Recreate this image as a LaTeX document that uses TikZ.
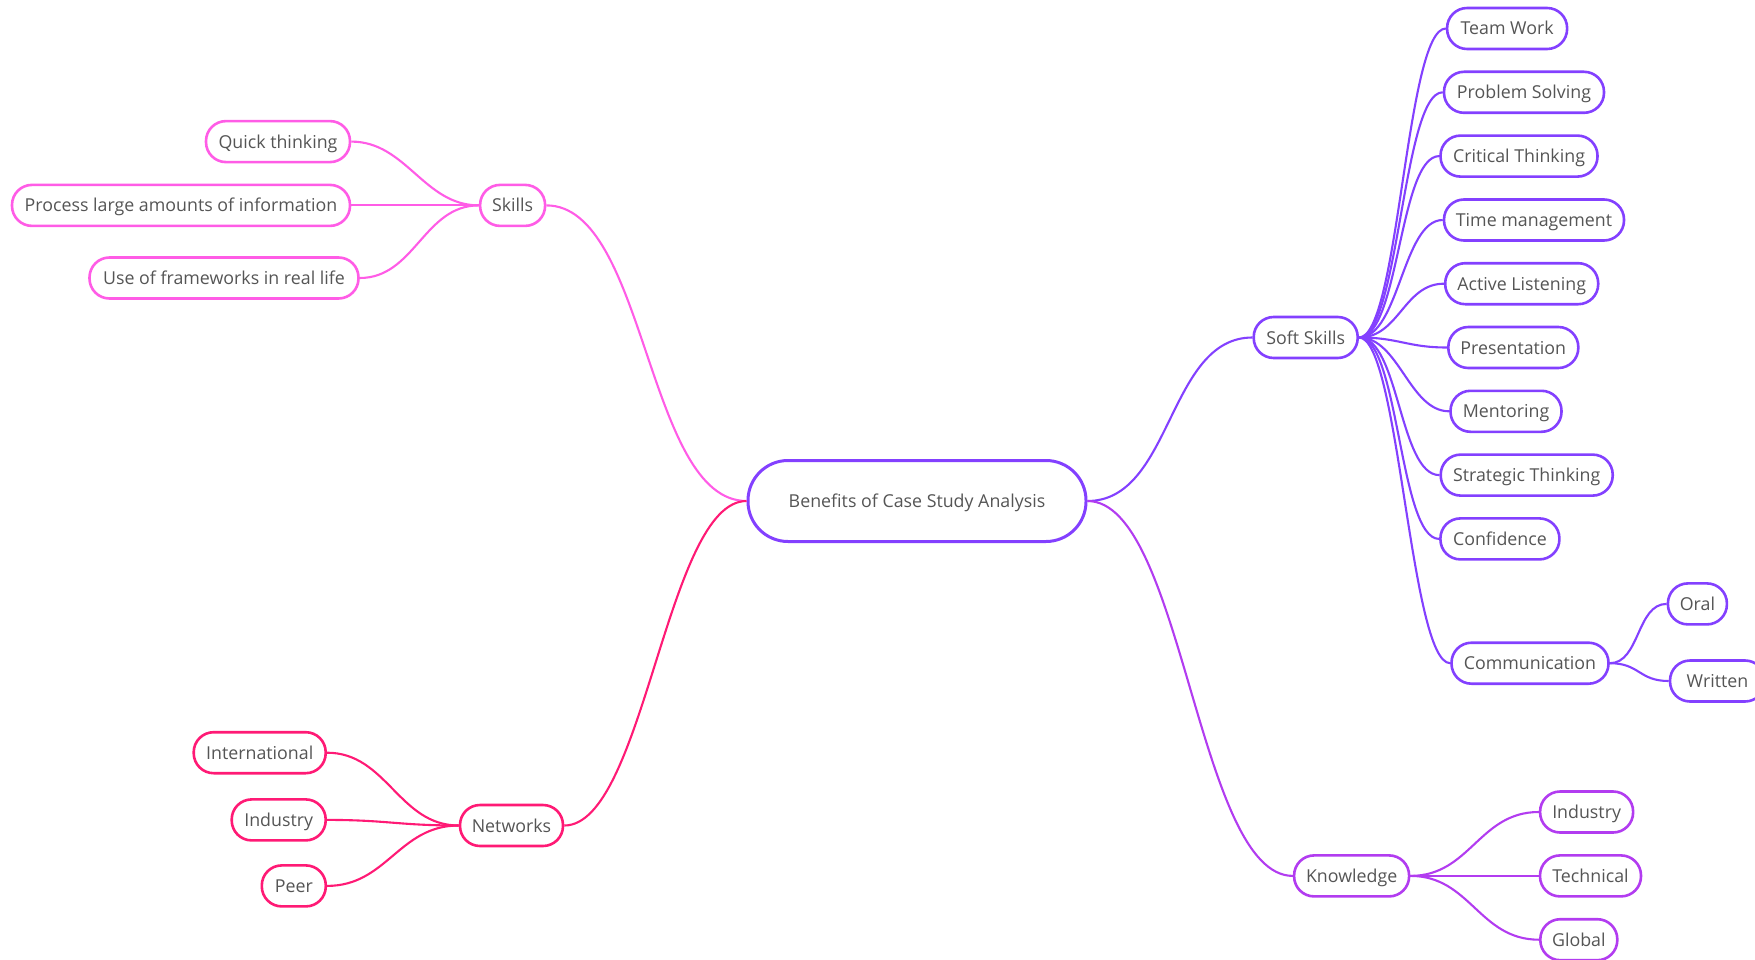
\documentclass[tikz,border=0pt]{standalone}
\usepackage{fontspec}
\setmainfont{Open Sans}
\definecolor{cskl}{HTML}{FF5CE6}
\definecolor{cnet}{HTML}{FF1A75}
\definecolor{csoft}{HTML}{8340FF}
\definecolor{cknow}{HTML}{B23CF0}
\definecolor{ctxt}{HTML}{555555}
\tikzset{
  box/.style={draw, line width=2.6pt, rounded corners=20pt, minimum height=41pt,
    inner sep=0pt, fill=white, text=ctxt, text height=13pt, text depth=0pt,
    font=\fontsize{17.8}{20}\selectfont},
  root/.style={draw=csoft, line width=3pt, rounded corners=40pt, minimum height=81pt,
    minimum width=338pt, inner sep=0pt, fill=white, text=ctxt, text height=13pt, text depth=0pt,
    font=\fontsize{17.8}{20}\selectfont},
  link/.style={line width=2.1pt},
}
\begin{document}
\begin{tikzpicture}[x=1pt,y=-1pt]
\useasboundingbox (0,0) rectangle (1755,960);
% nodes
\node[root] (c) at (917,501) {Benefits of Case Study Analysis};
\node[box,draw=cskl,minimum width=65pt] (skills) at (512.6,205.4) {Skills};
\node[box,draw=cskl,minimum width=144pt] (qt) at (278,141.6) {Quick thinking};
\node[box,draw=cskl,minimum width=338pt] (proc) at (181,205.4) {Process large amounts of information};
\node[box,draw=cskl,minimum width=269pt] (use) at (224,278) {Use of frameworks in real life};
\node[box,draw=cnet,minimum width=103pt] (net) at (511.5,825.5) {Networks};
\node[box,draw=cnet,minimum width=132pt] (intl) at (259.7,752.7) {International};
\node[box,draw=cnet,minimum width=94pt] (nind) at (278.7,819.9) {Industry};
\node[box,draw=cnet,minimum width=64pt] (peer) at (293.8,885.9) {Peer};
\node[box,draw=csoft,minimum width=104pt] (soft) at (1305.7,337.5) {Soft Skills};
\node[box,draw=csoft,minimum width=120pt] (team) at (1507.1,28.5) {Team Work};
\node[box,draw=csoft,minimum width=160pt] (prob) at (1524,92.3) {Problem Solving};
\node[box,draw=csoft,minimum width=157pt] (crit) at (1519,156.1) {Critical Thinking};
\node[box,draw=csoft,minimum width=180pt] (time) at (1534,220) {Time management};
\node[box,draw=csoft,minimum width=153pt] (act) at (1521.7,283.7) {Active Listening};
\node[box,draw=csoft,minimum width=130pt] (pres) at (1513.3,347.5) {Presentation};
\node[box,draw=csoft,minimum width=111pt] (ment) at (1506,411.3) {Mentoring};
\node[box,draw=csoft,minimum width=172pt] (strat) at (1526.7,475.1) {Strategic Thinking};
\node[box,draw=csoft,minimum width=119pt] (conf) at (1499.9,538.9) {Confidence};
\node[box,draw=csoft,minimum width=157pt] (comm) at (1530,663.2) {Communication};
\node[box,draw=csoft,minimum width=59pt] (oral) at (1697.4,603.9) {Oral};
\node[box,draw=csoft,minimum width=95pt] (writ) at (1717.5,681) {Written};
\node[box,draw=cknow,minimum width=115pt] (know) at (1351.6,875.9) {Knowledge};
\node[box,draw=cknow,minimum width=93pt] (kind) at (1586.6,812) {Industry};
\node[box,draw=cknow,minimum width=101pt] (tech) at (1590.5,875.9) {Technical};
\node[box,draw=cknow,minimum width=77pt] (glob) at (1578.8,939.7) {Global};
% connectors
\draw[link,cskl] (c.west) .. controls +(-100,0) and +(100,0) .. (skills.east);
\draw[link,cnet] (c.west) .. controls +(-80,0) and +(80,0) .. (net.east);
\draw[link,csoft] (c.east) .. controls +(85,0) and +(-85,0) .. (soft.west);
\draw[link,cknow] (c.east) .. controls +(95,0) and +(-95,0) .. (know.west);
\foreach \n in {qt,proc,use}
  \draw[link,cskl] (skills.west) .. controls +(-55,0) and +(55,0) .. (\n.east);
\foreach \n in {intl,nind,peer}
  \draw[link,cnet] (net.west) .. controls +(-60,0) and +(60,0) .. (\n.east);
\foreach \n in {team,prob,crit,time,act,pres,ment,strat,conf,comm}
  \draw[link,csoft] (soft.east) .. controls +(40,0) and +(-40,0) .. (\n.west);
\foreach \n in {oral,writ}
  \draw[link,csoft] (comm.east) .. controls +(30,0) and +(-30,0) .. (\n.west);
\foreach \n in {kind,tech,glob}
  \draw[link,cknow] (know.east) .. controls +(60,0) and +(-60,0) .. (\n.west);
\end{tikzpicture}
\end{document}
